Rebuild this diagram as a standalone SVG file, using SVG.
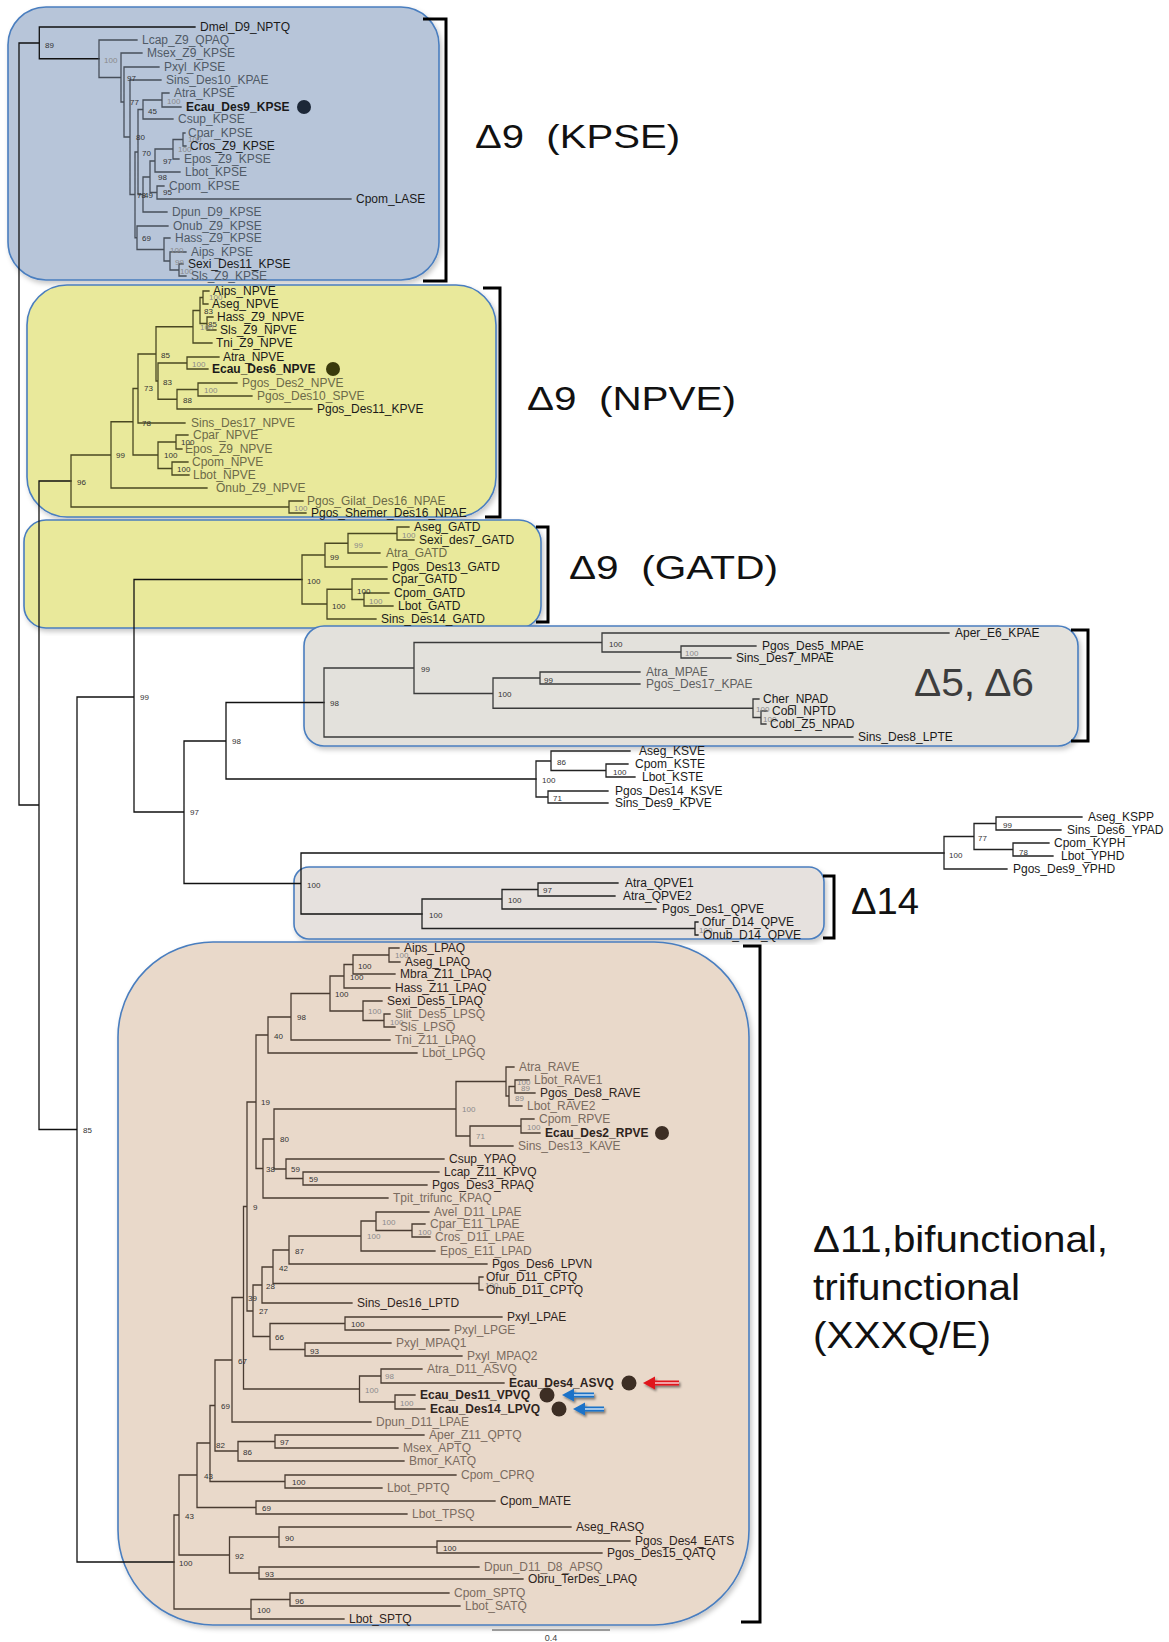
<svg xmlns="http://www.w3.org/2000/svg" width="1169" height="1642" viewBox="0 0 1169 1642">
<style>
text{font-family:"Liberation Sans",Arial,sans-serif}
.t{font-size:12px}
.d{fill:#1a1a1a}
.g{fill:#5e5e5e}
.b{font-weight:bold}
.n{font-size:8px;fill:#333}
.ng{font-size:8px;fill:#8a8a8a}
.ln{fill:none;stroke-width:1.3;stroke-linecap:square}
.box{stroke:#4a7ebf;stroke-width:1.6}
.br{fill:none;stroke:#000;stroke-width:3}
.big{font-size:34px;fill:#111}
.kp .g{fill:#505a66}
.np .g{fill:#6c6a48}
.pe .g{fill:#7a6b5f}
.pe .d{fill:#2e241d}
</style>
<defs>
<filter id="sh" x="-5%" y="-5%" width="112%" height="112%"><feDropShadow dx="2" dy="3" stdDeviation="2.5" flood-color="#000" flood-opacity="0.22"/></filter>
<filter id="ash" x="-30%" y="-60%" width="170%" height="260%"><feDropShadow dx="1.5" dy="2" stdDeviation="1.2" flood-color="#000" flood-opacity="0.45"/></filter>
</defs>
<rect width="1169" height="1642" fill="#fff"/>
<g id="boxes">
<rect id="box-kpse" class="box" x="8" y="7" width="431" height="273" rx="38" fill="#b7c5d9" filter="url(#sh)"/>
<rect id="box-npve" class="box" x="27" y="285" width="469" height="232" rx="40" fill="#e9e99b" filter="url(#sh)"/>
<rect id="box-gatd" class="box" x="24" y="520" width="517" height="108" rx="22" fill="#e9e99b" filter="url(#sh)"/>
<rect id="box-d56" class="box" x="304" y="626" width="774" height="120" rx="20" fill="#e3e1dc" filter="url(#sh)"/>
<rect id="box-d14" class="box" x="294" y="867" width="530" height="72" rx="15" fill="#e6e1de" filter="url(#sh)"/>
<rect id="box-d11" class="box" x="118" y="942" width="631" height="683" rx="95" fill="#e9d9ca" filter="url(#sh)"/>
</g>
<g id="connectors">
<path class="ln" stroke="#111" d="M19 43V805M19 43H39.3M19 805H39M39 481V1129.5M39 481H71M39 1129.5H77M77 697V1562M77 697H134M77 1562H174M134 579.5V812M134 579.5H302M134 812H184M184 741V883.5M184 741H226M184 883.5H301M226 702.5V779M226 702.5H324M226 779H536M301 853V914M301 853H944M301 914H422M39.3 27V58.75M39.3 27H195M39.3 58.75H99"/>
<path class="ln" stroke="#474f5a" d="M99 40V77.5M99 40H137M99 77.5H121M121 53V102M121 53H142M121 102H124M124 67V137M124 67H159M124 137H130M130 80V194.5M130 80H161M130 194.5H135M135 152V237.75M135 152H138M135 237.75H137M138 109.5V194.5M138 109.5H143M138 194.5H143M143 100V119M143 100H162M143 119H173M162 93V107M162 93H169M162 107H181M143 177V212M143 177H150M143 212H167M150 161V192.5M150 161H155M150 192.5H157M155 149V172M155 149H173M155 172H180M173 139.5V159M173 139.5H183M173 159H179M183 133V146M183 133H185M183 146H186M157 186V199M157 186H164M157 199H351M137 226V249.5M137 226H168M137 249.5H164M164 238V261M164 238H170M164 261H170M170 252V270M170 252H186M170 270H179M179 264V276M179 264H183M179 276H186"/>
<path class="ln" stroke="#4a4822" d="M71 455V507M71 455H111M71 507H289M289 501V513M289 501H303M289 513H306M111 421.75V488M111 421.75H133M111 488H207M133 388.5V455M133 388.5H138M133 455H158M138 354V423M138 354H156M138 423H185M156 326.75V381M156 326.75H193M156 381H158M193 310.5V343M193 310.5H200M193 343H212M200 297.5V323.5M200 297.5H203M200 323.5H207M203 291V304M203 291H209M203 304H208M207 317V330M207 317H213M207 330H216M158 363V399.25M158 363H187M158 399.25H177M187 357V369M187 357H219M187 369H208M177 389.5V409M177 389.5H198M177 409H312M198 383V396M198 383H237M198 396H252M158 442V468.5M158 442H176M158 468.5H172M176 435V449M176 435H188M176 449H182M172 462V475M172 462H188M172 475H189"/>
<path class="ln" stroke="#4a4822" d="M302 555V604M302 555H325M302 604H327M325 543.25V567M325 543.25H348M325 567H387M348 533.5V553M348 533.5H397M348 553H380M397 527V540M397 527H409M397 540H414M327 589.25V619M327 589.25H352M327 619H376M352 579V599.5M352 579H387M352 599.5H364M364 593V606M364 593H389M364 606H393"/>
<path class="ln" stroke="#3a3a3a" d="M324 668V737M324 668H414M324 737H853M414 642.5V693.5M414 642.5H602M414 693.5H493M602 633V652M602 633H949M602 652H681M681 646V658M681 646H756M681 658H731M493 678V708.25M493 678H540M493 708.25H753M540 672V684M540 672H640M540 684H640M753 699V717.5M753 699H759M753 717.5H761M761 711V724M761 711H767M761 724H766"/>
<path class="ln" stroke="#222" d="M536 761V797M536 761H551M536 797H548M551 751V770.5M551 751H630M551 770.5H606M606 764V777M606 764H628M606 777H635M548 791V803M548 791H608M548 803H608M944 836.5V869M944 836.5H974M944 869H1007M974 823.5V849.5M974 823.5H996M974 849.5H1013M996 817V830M996 817H1082M996 830H1061M1013 843V856M1013 843H1049M1013 856H1053M422 899V928.5M422 899H502M422 928.5H695M502 889.5V909M502 889.5H538M502 909H656M538 883V896M538 883H618M538 896H615M695 922V935M695 922H698M695 935H698"/>
<path class="ln" stroke="#4a3c32" d="M174 1515V1609M174 1515H179M174 1609H251M179 1475V1555M179 1475H197M179 1555H229.5M197 1443V1507.5M197 1443H210M197 1507.5H256M210 1405.5V1481.5M210 1405.5H215M210 1481.5H285M215 1360V1451M215 1360H232M215 1451H238M232 1297.5V1422M232 1297.5H243.5M232 1422H371M243.5 1206.5V1389M243.5 1206.5H247M243.5 1389H359.5M247 1102V1311M247 1102H256M247 1311H253M256 1035V1168.5M256 1035H268M256 1168.5H263M268 1017V1053M268 1017H291M268 1053H417M291 993.5V1040M291 993.5H330M291 1040H390M330 976V1011M330 976H344M330 1011H363M344 964.5V988M344 964.5H353M344 988H390M353 955V974M353 955H389M353 974H395M389 948V962M389 948H399M389 962H400M363 1001V1020.5M363 1001H382M363 1020.5H384M384 1014V1027M384 1014H390M384 1027H395M263 1139V1198M263 1139H274M263 1198H388M274 1109V1169M274 1109H456M274 1169H286M456 1081.5V1136M456 1081.5H506M456 1136H470M506 1067V1096M506 1067H514M506 1096H509M509 1086.5V1106M509 1086.5H515M509 1106H522M515 1080V1093M515 1080H529M515 1093H535M470 1126V1146M470 1126H521M470 1146H513M521 1119V1133M521 1119H534M521 1133H540M286 1159V1178.5M286 1159H444M286 1178.5H303M303 1172V1185M303 1172H439M303 1185H427M253 1285V1336.5M253 1285H262M253 1336.5H270M262 1267V1303M262 1267H273M262 1303H352M273 1250V1283.5M273 1250H289M273 1283.5H479M289 1236V1264M289 1236H361M289 1264H487M361 1221V1251M361 1221H376M361 1251H435M376 1212V1230.5M376 1212H429M376 1230.5H412M412 1224V1237M412 1224H425M412 1237H430M479 1277V1290M479 1277H483M479 1290H483M270 1323.5V1349.5M270 1323.5H345M270 1349.5H305M345 1317V1330M345 1317H502M345 1330H449M305 1343V1356M305 1343H391M305 1356H462M359.5 1376V1402M359.5 1376H381M359.5 1402H395M381 1369V1383M381 1369H422M381 1383H504M395 1395V1409M395 1395H415M395 1409H425M238 1441.5V1461M238 1441.5H275M238 1461H404M275 1435V1448M275 1435H424M275 1448H398M285 1475V1488M285 1475H456M285 1488H382M256 1501V1514M256 1501H495M256 1514H407M229.5 1537V1573M229.5 1537H279M229.5 1573H259M279 1527V1547M279 1527H571M279 1547H437M437 1541V1553M437 1541H630M437 1553H602M259 1567V1579M259 1567H479M259 1579H523M251 1599.5V1619M251 1599.5H290M251 1619H344M290 1593V1606M290 1593H449M290 1606H460"/>
</g>
<g id="support-values">
<text class="n" x="45" y="48">89</text><text class="n" x="140" y="700">99</text><text class="n" x="190" y="815">97</text><text class="n" x="232" y="744">98</text><text class="n" x="83" y="1133">85</text><text class="n" x="307" y="888">100</text>
<text class="ng" x="104" y="63">100</text><text class="n" x="127" y="81">97</text><text class="n" x="130" y="105">77</text><text class="n" x="136" y="140">80</text><text class="n" x="148" y="114">45</text><text class="ng" x="167" y="104">100</text><text class="n" x="142" y="156">70</text><text class="n" x="137" y="198">78</text><text class="n" x="144" y="198">49</text><text class="n" x="158" y="180">98</text><text class="n" x="163" y="164">97</text><text class="ng" x="178" y="152">100</text><text class="ng" x="188" y="142">100</text><text class="n" x="163" y="195">95</text><text class="n" x="142" y="241">69</text><text class="ng" x="170" y="253">100</text><text class="ng" x="175" y="265">99</text><text class="ng" x="180" y="274">100</text>
<text class="ng" x="209" y="300">100</text><text class="n" x="204" y="314">83</text><text class="n" x="208" y="327">85</text><text class="ng" x="200" y="330">100</text><text class="n" x="161" y="358">85</text><text class="ng" x="192" y="367">100</text><text class="n" x="163" y="385">83</text><text class="ng" x="204" y="393">100</text><text class="n" x="183" y="403">88</text><text class="n" x="144" y="391">73</text><text class="n" x="142" y="426">78</text><text class="n" x="181" y="445">100</text><text class="n" x="164" y="458">100</text><text class="n" x="177" y="472">100</text><text class="n" x="116" y="458">99</text><text class="n" x="77" y="485">96</text><text class="ng" x="294" y="511">100</text>
<text class="ng" x="402" y="538">100</text><text class="ng" x="354" y="548">99</text><text class="n" x="330" y="560">99</text><text class="ng" x="369" y="604">100</text><text class="n" x="357" y="594">100</text><text class="n" x="332" y="609">100</text><text class="n" x="307" y="584">100</text>
<text class="n" x="609" y="647">100</text><text class="ng" x="685" y="656">100</text><text class="n" x="421" y="672">99</text><text class="n" x="544" y="683">99</text><text class="n" x="498" y="697">100</text><text class="n" x="330" y="706">98</text><text class="ng" x="756" y="712">100</text><text class="ng" x="763" y="722">100</text>
<text class="n" x="557" y="765">86</text><text class="n" x="613" y="775">100</text><text class="n" x="542" y="783">100</text><text class="n" x="553" y="801">71</text>
<text class="n" x="1003" y="828">99</text><text class="n" x="978" y="841">77</text><text class="n" x="1019" y="855">78</text><text class="n" x="949" y="858">100</text>
<text class="n" x="429" y="918">100</text><text class="n" x="508" y="903">100</text><text class="n" x="543" y="893">97</text><text class="ng" x="699" y="933">100</text>
<text class="ng" x="395" y="958">100</text><text class="n" x="358" y="969">100</text><text class="n" x="350" y="980">100</text><text class="ng" x="368" y="1014">100</text><text class="ng" x="390" y="1025">100</text><text class="n" x="335" y="997">100</text><text class="n" x="297" y="1020">98</text><text class="n" x="274" y="1039">40</text><text class="n" x="261" y="1105">19</text><text class="n" x="280" y="1142">80</text><text class="n" x="266" y="1172">38</text><text class="n" x="291" y="1172">59</text><text class="n" x="309" y="1182">59</text><text class="ng" x="462" y="1112">100</text><text class="ng" x="476" y="1139">71</text><text class="ng" x="527" y="1130">100</text><text class="ng" x="517" y="1085">100</text><text class="ng" x="521" y="1091">89</text><text class="ng" x="515" y="1101">89</text><text class="n" x="253" y="1210">9</text><text class="ng" x="382" y="1225">100</text><text class="ng" x="418" y="1235">100</text><text class="ng" x="367" y="1239">100</text><text class="n" x="295" y="1254">87</text><text class="n" x="279" y="1271">42</text><text class="n" x="266" y="1289">28</text><text class="ng" x="485" y="1288">100</text><text class="n" x="248" y="1301">39</text><text class="n" x="259" y="1314">27</text><text class="n" x="351" y="1327">100</text><text class="n" x="275" y="1340">66</text><text class="n" x="310" y="1354">93</text><text class="n" x="238" y="1364">67</text><text class="ng" x="385" y="1379">98</text><text class="ng" x="365" y="1393">100</text><text class="ng" x="400" y="1406">100</text><text class="n" x="221" y="1409">69</text><text class="n" x="280" y="1445">97</text><text class="n" x="216" y="1448">82</text><text class="n" x="243" y="1455">86</text><text class="n" x="204" y="1479">43</text><text class="n" x="292" y="1485">100</text><text class="n" x="262" y="1511">69</text><text class="n" x="185" y="1519">43</text><text class="n" x="285" y="1541">90</text><text class="n" x="443" y="1551">100</text><text class="n" x="235" y="1559">92</text><text class="n" x="179" y="1566">100</text><text class="n" x="265" y="1577">93</text><text class="n" x="295" y="1604">96</text><text class="n" x="257" y="1613">100</text>
</g>
<g id="clade-kpse" class="kp">
<g id="n-Dmel_D9_NPTQ"><text class="t d" x="200" y="31">Dmel_D9_NPTQ</text></g>
<g id="n-Lcap_Z9_QPAQ"><text class="t g" x="142" y="44">Lcap_Z9_QPAQ</text></g>
<g id="n-Msex_Z9_KPSE"><text class="t g" x="147" y="57">Msex_Z9_KPSE</text></g>
<g id="n-Pxyl_KPSE"><text class="t g" x="164" y="71">Pxyl_KPSE</text></g>
<g id="n-Sins_Des10_KPAE"><text class="t g" x="166" y="84">Sins_Des10_KPAE</text></g>
<g id="n-Atra_KPSE"><text class="t g" x="174" y="97">Atra_KPSE</text></g>
<g id="n-Ecau_Des9_KPSE"><text class="t d b" x="186" y="111">Ecau_Des9_KPSE</text><circle cx="304" cy="107" r="7" fill="#1d2838"/></g>
<g id="n-Csup_KPSE"><text class="t g" x="178" y="123">Csup_KPSE</text></g>
<g id="n-Cpar_KPSE"><text class="t g" x="188" y="137">Cpar_KPSE</text></g>
<g id="n-Cros_Z9_KPSE"><text class="t d" x="190" y="150">Cros_Z9_KPSE</text></g>
<g id="n-Epos_Z9_KPSE"><text class="t g" x="184" y="163">Epos_Z9_KPSE</text></g>
<g id="n-Lbot_KPSE"><text class="t g" x="185" y="176">Lbot_KPSE</text></g>
<g id="n-Cpom_KPSE"><text class="t g" x="169" y="190">Cpom_KPSE</text></g>
<g id="n-Cpom_LASE"><text class="t d" x="356" y="203">Cpom_LASE</text></g>
<g id="n-Dpun_D9_KPSE"><text class="t g" x="172" y="216">Dpun_D9_KPSE</text></g>
<g id="n-Onub_Z9_KPSE"><text class="t g" x="173" y="230">Onub_Z9_KPSE</text></g>
<g id="n-Hass_Z9_KPSE"><text class="t g" x="175" y="242">Hass_Z9_KPSE</text></g>
<g id="n-Aips_KPSE"><text class="t g" x="191" y="256">Aips_KPSE</text></g>
<g id="n-Sexi_Des11_KPSE"><text class="t d" x="188" y="268">Sexi_Des11_KPSE</text></g>
<g id="n-Sls_Z9_KPSE"><text class="t g" x="191" y="280">Sls_Z9_KPSE</text></g>
</g>
<g id="clade-npve" class="np">
<g id="n-Aips_NPVE"><text class="t d" x="213" y="295">Aips_NPVE</text></g>
<g id="n-Aseg_NPVE"><text class="t d" x="212" y="308">Aseg_NPVE</text></g>
<g id="n-Hass_Z9_NPVE"><text class="t d" x="217" y="321">Hass_Z9_NPVE</text></g>
<g id="n-Sls_Z9_NPVE"><text class="t d" x="220" y="334">Sls_Z9_NPVE</text></g>
<g id="n-Tni_Z9_NPVE"><text class="t d" x="216" y="347">Tni_Z9_NPVE</text></g>
<g id="n-Atra_NPVE"><text class="t d" x="223" y="361">Atra_NPVE</text></g>
<g id="n-Ecau_Des6_NPVE"><text class="t d b" x="212" y="373">Ecau_Des6_NPVE</text><circle cx="333" cy="369" r="7" fill="#3a3a0c"/></g>
<g id="n-Pgos_Des2_NPVE"><text class="t g" x="242" y="387">Pgos_Des2_NPVE</text></g>
<g id="n-Pgos_Des10_SPVE"><text class="t g" x="257" y="400">Pgos_Des10_SPVE</text></g>
<g id="n-Pgos_Des11_KPVE"><text class="t d" x="317" y="413">Pgos_Des11_KPVE</text></g>
<g id="n-Sins_Des17_NPVE"><text class="t g" x="191" y="427">Sins_Des17_NPVE</text></g>
<g id="n-Cpar_NPVE"><text class="t g" x="193" y="439">Cpar_NPVE</text></g>
<g id="n-Epos_Z9_NPVE"><text class="t g" x="185" y="453">Epos_Z9_NPVE</text></g>
<g id="n-Cpom_NPVE"><text class="t g" x="192" y="466">Cpom_NPVE</text></g>
<g id="n-Lbot_NPVE"><text class="t g" x="193" y="479">Lbot_NPVE</text></g>
<g id="n-Onub_Z9_NPVE"><text class="t g" x="216" y="492">Onub_Z9_NPVE</text></g>
<g id="n-Pgos_Gilat_Des16_NPAE"><text class="t g" x="307" y="505">Pgos_Gilat_Des16_NPAE</text></g>
<g id="n-Pgos_Shemer_Des16_NPAE"><text class="t d" x="311" y="517">Pgos_Shemer_Des16_NPAE</text></g>
</g>
<g id="clade-gatd" class="np">
<g id="n-Aseg_GATD"><text class="t d" x="414" y="531">Aseg_GATD</text></g>
<g id="n-Sexi_des7_GATD"><text class="t d" x="419" y="544">Sexi_des7_GATD</text></g>
<g id="n-Atra_GATD"><text class="t g" x="386" y="557">Atra_GATD</text></g>
<g id="n-Pgos_Des13_GATD"><text class="t d" x="392" y="571">Pgos_Des13_GATD</text></g>
<g id="n-Cpar_GATD"><text class="t d" x="392" y="583">Cpar_GATD</text></g>
<g id="n-Cpom_GATD"><text class="t d" x="394" y="597">Cpom_GATD</text></g>
<g id="n-Lbot_GATD"><text class="t d" x="398" y="610">Lbot_GATD</text></g>
<g id="n-Sins_Des14_GATD"><text class="t d" x="381" y="623">Sins_Des14_GATD</text></g>
</g>
<g id="clade-d56">
<g id="n-Aper_E6_KPAE"><text class="t d" x="955" y="637">Aper_E6_KPAE</text></g>
<g id="n-Pgos_Des5_MPAE"><text class="t d" x="762" y="650">Pgos_Des5_MPAE</text></g>
<g id="n-Sins_Des7_MPAE"><text class="t d" x="736" y="662">Sins_Des7_MPAE</text></g>
<g id="n-Atra_MPAE"><text class="t g" x="646" y="676">Atra_MPAE</text></g>
<g id="n-Pgos_Des17_KPAE"><text class="t g" x="646" y="688">Pgos_Des17_KPAE</text></g>
<g id="n-Cher_NPAD"><text class="t d" x="763" y="703">Cher_NPAD</text></g>
<g id="n-Cobl_NPTD"><text class="t d" x="772" y="715">Cobl_NPTD</text></g>
<g id="n-Cobl_Z5_NPAD"><text class="t d" x="770" y="728">Cobl_Z5_NPAD</text></g>
<g id="n-Sins_Des8_LPTE"><text class="t d" x="858" y="741">Sins_Des8_LPTE</text></g>
</g>
<g id="clade-ksve">
<g id="n-Aseg_KSVE"><text class="t d" x="639" y="755">Aseg_KSVE</text></g>
<g id="n-Cpom_KSTE"><text class="t d" x="635" y="768">Cpom_KSTE</text></g>
<g id="n-Lbot_KSTE"><text class="t d" x="642" y="781">Lbot_KSTE</text></g>
<g id="n-Pgos_Des14_KSVE"><text class="t d" x="615" y="795">Pgos_Des14_KSVE</text></g>
<g id="n-Sins_Des9_KPVE"><text class="t d" x="615" y="807">Sins_Des9_KPVE</text></g>
</g>
<g id="clade-kspp">
<g id="n-Aseg_KSPP"><text class="t d" x="1088" y="821">Aseg_KSPP</text></g>
<g id="n-Sins_Des6_YPAD"><text class="t d" x="1067" y="834">Sins_Des6_YPAD</text></g>
<g id="n-Cpom_KYPH"><text class="t d" x="1054" y="847">Cpom_KYPH</text></g>
<g id="n-Lbot_YPHD"><text class="t d" x="1061" y="860">Lbot_YPHD</text></g>
<g id="n-Pgos_Des9_YPHD"><text class="t d" x="1013" y="873">Pgos_Des9_YPHD</text></g>
</g>
<g id="clade-d14">
<g id="n-Atra_QPVE1"><text class="t d" x="625" y="887">Atra_QPVE1</text></g>
<g id="n-Atra_QPVE2"><text class="t d" x="623" y="900">Atra_QPVE2</text></g>
<g id="n-Pgos_Des1_QPVE"><text class="t d" x="662" y="913">Pgos_Des1_QPVE</text></g>
<g id="n-Ofur_D14_QPVE"><text class="t d" x="702" y="926">Ofur_D14_QPVE</text></g>
<g id="n-Onub_D14_QPVE"><text class="t d" x="703" y="939">Onub_D14_QPVE</text></g>
</g>
<g id="clade-d11" class="pe">
<g id="n-Aips_LPAQ"><text class="t d" x="404" y="952">Aips_LPAQ</text></g>
<g id="n-Aseg_LPAQ"><text class="t d" x="405" y="966">Aseg_LPAQ</text></g>
<g id="n-Mbra_Z11_LPAQ"><text class="t d" x="400" y="978">Mbra_Z11_LPAQ</text></g>
<g id="n-Hass_Z11_LPAQ"><text class="t d" x="395" y="992">Hass_Z11_LPAQ</text></g>
<g id="n-Sexi_Des5_LPAQ"><text class="t d" x="387" y="1005">Sexi_Des5_LPAQ</text></g>
<g id="n-Slit_Des5_LPSQ"><text class="t g" x="395" y="1018">Slit_Des5_LPSQ</text></g>
<g id="n-Sls_LPSQ"><text class="t g" x="400" y="1031">Sls_LPSQ</text></g>
<g id="n-Tni_Z11_LPAQ"><text class="t g" x="395" y="1044">Tni_Z11_LPAQ</text></g>
<g id="n-Lbot_LPGQ"><text class="t g" x="422" y="1057">Lbot_LPGQ</text></g>
<g id="n-Atra_RAVE"><text class="t g" x="519" y="1071">Atra_RAVE</text></g>
<g id="n-Lbot_RAVE1"><text class="t g" x="534" y="1084">Lbot_RAVE1</text></g>
<g id="n-Pgos_Des8_RAVE"><text class="t d" x="540" y="1097">Pgos_Des8_RAVE</text></g>
<g id="n-Lbot_RAVE2"><text class="t g" x="527" y="1110">Lbot_RAVE2</text></g>
<g id="n-Cpom_RPVE"><text class="t g" x="539" y="1123">Cpom_RPVE</text></g>
<g id="n-Ecau_Des2_RPVE"><text class="t d b" x="545" y="1137">Ecau_Des2_RPVE</text><circle cx="662" cy="1133" r="7" fill="#3d2e24"/></g>
<g id="n-Sins_Des13_KAVE"><text class="t g" x="518" y="1150">Sins_Des13_KAVE</text></g>
<g id="n-Csup_YPAQ"><text class="t d" x="449" y="1163">Csup_YPAQ</text></g>
<g id="n-Lcap_Z11_KPVQ"><text class="t d" x="444" y="1176">Lcap_Z11_KPVQ</text></g>
<g id="n-Pgos_Des3_RPAQ"><text class="t d" x="432" y="1189">Pgos_Des3_RPAQ</text></g>
<g id="n-Tpit_trifunc_KPAQ"><text class="t g" x="393" y="1202">Tpit_trifunc_KPAQ</text></g>
<g id="n-Avel_D11_LPAE"><text class="t g" x="434" y="1216">Avel_D11_LPAE</text></g>
<g id="n-Cpar_E11_LPAE"><text class="t g" x="430" y="1228">Cpar_E11_LPAE</text></g>
<g id="n-Cros_D11_LPAE"><text class="t g" x="435" y="1241">Cros_D11_LPAE</text></g>
<g id="n-Epos_E11_LPAD"><text class="t g" x="440" y="1255">Epos_E11_LPAD</text></g>
<g id="n-Pgos_Des6_LPVN"><text class="t d" x="492" y="1268">Pgos_Des6_LPVN</text></g>
<g id="n-Ofur_D11_CPTQ"><text class="t d" x="486" y="1281">Ofur_D11_CPTQ</text></g>
<g id="n-Onub_D11_CPTQ"><text class="t d" x="486" y="1294">Onub_D11_CPTQ</text></g>
<g id="n-Sins_Des16_LPTD"><text class="t d" x="357" y="1307">Sins_Des16_LPTD</text></g>
<g id="n-Pxyl_LPAE"><text class="t d" x="507" y="1321">Pxyl_LPAE</text></g>
<g id="n-Pxyl_LPGE"><text class="t g" x="454" y="1334">Pxyl_LPGE</text></g>
<g id="n-Pxyl_MPAQ1"><text class="t g" x="396" y="1347">Pxyl_MPAQ1</text></g>
<g id="n-Pxyl_MPAQ2"><text class="t g" x="467" y="1360">Pxyl_MPAQ2</text></g>
<g id="n-Atra_D11_ASVQ"><text class="t g" x="427" y="1373">Atra_D11_ASVQ</text></g>
<g id="n-Ecau_Des4_ASVQ"><text class="t d b" x="509" y="1387">Ecau_Des4_ASVQ</text><circle cx="629" cy="1383" r="7.5" fill="#3d2e24"/></g>
<g id="n-Ecau_Des11_VPVQ"><text class="t d b" x="420" y="1399">Ecau_Des11_VPVQ</text><circle cx="547" cy="1395" r="7.5" fill="#3d2e24"/></g>
<g id="n-Ecau_Des14_LPVQ"><text class="t d b" x="430" y="1413">Ecau_Des14_LPVQ</text><circle cx="559" cy="1409" r="7.5" fill="#3d2e24"/></g>
<g id="n-Dpun_D11_LPAE"><text class="t g" x="376" y="1426">Dpun_D11_LPAE</text></g>
<g id="n-Aper_Z11_QPTQ"><text class="t g" x="429" y="1439">Aper_Z11_QPTQ</text></g>
<g id="n-Msex_APTQ"><text class="t g" x="403" y="1452">Msex_APTQ</text></g>
<g id="n-Bmor_KATQ"><text class="t g" x="409" y="1465">Bmor_KATQ</text></g>
<g id="n-Cpom_CPRQ"><text class="t g" x="461" y="1479">Cpom_CPRQ</text></g>
<g id="n-Lbot_PPTQ"><text class="t g" x="387" y="1492">Lbot_PPTQ</text></g>
<g id="n-Cpom_MATE"><text class="t d" x="500" y="1505">Cpom_MATE</text></g>
<g id="n-Lbot_TPSQ"><text class="t g" x="412" y="1518">Lbot_TPSQ</text></g>
<g id="n-Aseg_RASQ"><text class="t d" x="576" y="1531">Aseg_RASQ</text></g>
<g id="n-Pgos_Des4_EATS"><text class="t d" x="635" y="1545">Pgos_Des4_EATS</text></g>
<g id="n-Pgos_Des15_QATQ"><text class="t d" x="607" y="1557">Pgos_Des15_QATQ</text></g>
<g id="n-Dpun_D11_D8_APSQ"><text class="t g" x="484" y="1571">Dpun_D11_D8_APSQ</text></g>
<g id="n-Obru_TerDes_LPAQ"><text class="t d" x="528" y="1583">Obru_TerDes_LPAQ</text></g>
<g id="n-Cpom_SPTQ"><text class="t g" x="454" y="1597">Cpom_SPTQ</text></g>
<g id="n-Lbot_SATQ"><text class="t g" x="465" y="1610">Lbot_SATQ</text></g>
<g id="n-Lbot_SPTQ"><text class="t d" x="349" y="1623">Lbot_SPTQ</text></g>
</g>
<g id="arrows" filter="url(#ash)">
<g id="arrow-red"><path d="M653 1383H679" stroke="#e0141e" stroke-width="5"/><path d="M653 1383H679" stroke="#fff" stroke-width="1.2"/><polygon points="643,1383 655,1376.5 655,1389.5" fill="#e0141e"/></g>
<g id="arrow-blue1"><path d="M572 1395H594" stroke="#1b72c8" stroke-width="5"/><path d="M572 1395H594" stroke="#fff" stroke-width="1.2"/><polygon points="562,1395 574,1388.5 574,1401.5" fill="#1b72c8"/></g>
<g id="arrow-blue2"><path d="M583 1409H604" stroke="#1b72c8" stroke-width="5"/><path d="M583 1409H604" stroke="#fff" stroke-width="1.2"/><polygon points="573,1409 585,1402.5 585,1415.5" fill="#1b72c8"/></g>
</g>
<g id="brackets">
<path class="br" d="M423 19H446V281H423"/>
<path class="br" d="M483 288H500V517H485"/>
<path class="br" d="M536 527H548V622H536"/>
<path class="br" d="M1071 630H1088V741H1071"/>
<path class="br" d="M823 876H834V938H823"/>
<path class="br" d="M743 946H760V1622H741"/>
</g>
<g id="group-labels">
<text class="big" x="475" y="148" textLength="205" lengthAdjust="spacingAndGlyphs" xml:space="preserve">Δ9  (KPSE)</text>
<text class="big" x="527" y="410" textLength="209" lengthAdjust="spacingAndGlyphs" xml:space="preserve">Δ9  (NPVE)</text>
<text class="big" x="569" y="579" textLength="209" lengthAdjust="spacingAndGlyphs" xml:space="preserve">Δ9  (GATD)</text>
<text x="914" y="696" style="font-size:38px;fill:#3d3d3d" textLength="120" lengthAdjust="spacingAndGlyphs">Δ5, Δ6</text>
<text x="851" y="914" style="font-size:37px;fill:#111" textLength="68" lengthAdjust="spacingAndGlyphs">Δ14</text>
<text class="big" x="813" y="1252" style="font-size:36px" textLength="295" lengthAdjust="spacingAndGlyphs">Δ11,bifunctional,</text>
<text class="big" x="813" y="1300" style="font-size:36px" textLength="207" lengthAdjust="spacingAndGlyphs">trifunctional</text>
<text class="big" x="813" y="1348" style="font-size:36px" textLength="178" lengthAdjust="spacingAndGlyphs">(XXXQ/E)</text>
</g>
<g id="scale-bar">
<path d="M492 1630H610" stroke="#9a9a9a" stroke-width="2"/>
<text x="551" y="1641" text-anchor="middle" style="font-size:9px;fill:#444">0.4</text>
</g>
</svg>
